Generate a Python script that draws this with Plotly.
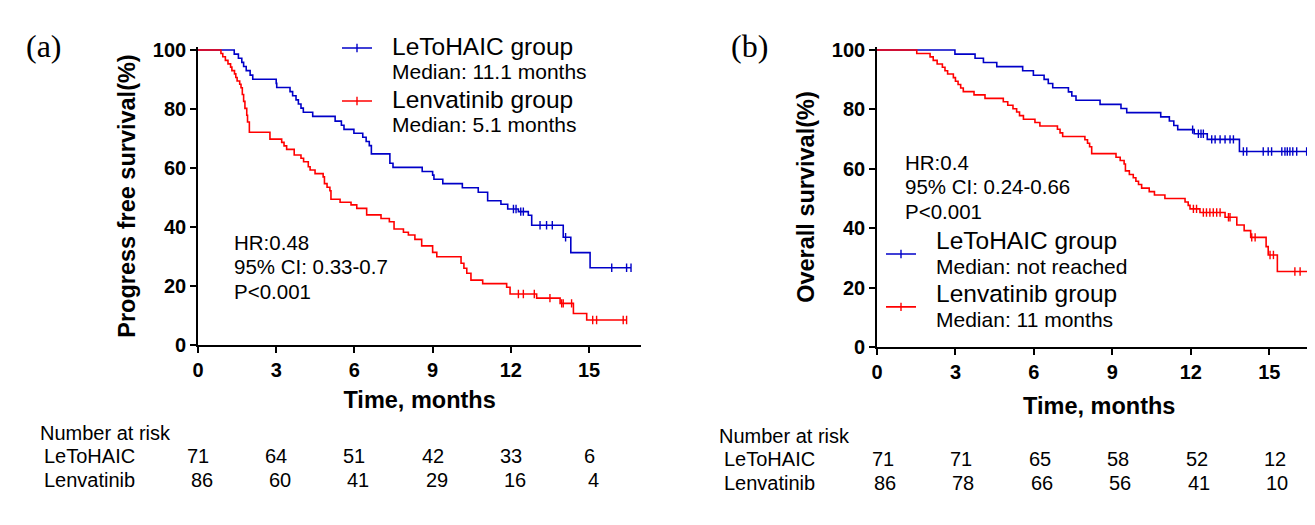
import plotly.graph_objects as go

# ---------------- data ----------------
month_ticks = [0, 3, 6, 9, 12, 15]
pct_ticks = [0, 20, 40, 60, 80, 100]

pfs_leto_time = [0, 1.39, 1.55, 1.68, 1.75, 1.85, 2.0, 2.1, 3.0, 3.02, 3.53, 3.63, 3.76, 3.85, 3.95, 4.04, 4.4,
                 5.26, 5.5, 5.6, 5.98, 6.32, 6.45, 6.57, 6.65, 7.36, 7.48, 8.6, 9.0, 9.05, 9.39, 10.14, 10.75,
                 11.11, 11.62, 11.88, 12.29, 12.67, 12.8, 14.01, 14.3, 15.04, 16.61]
pfs_leto_surv = [100, 98.6, 97.2, 95.8, 94.4, 93.0, 91.5, 90.1, 88.7, 87.3, 85.9, 84.5, 83.1, 81.7, 80.3, 78.9, 77.5,
                 75.9, 74.5, 73.1, 71.8, 70.4, 69.0, 67.6, 64.8, 61.6, 60.2, 58.8, 57.6, 56.2, 54.7, 53.3, 51.8,
                 48.9, 47.7, 46.1, 45.2, 44.0, 40.6, 36.5, 31.3, 26.2, 26.2]
pfs_leto_cens = [12.1, 12.2, 12.38, 12.48, 13.12, 13.37, 13.59, 14.1, 15.87, 16.44, 16.61]

pfs_lenv_time = [0, 0.88, 0.95, 1.05, 1.15, 1.25, 1.3, 1.4, 1.45, 1.5, 1.6, 1.65, 1.7, 1.75, 1.8, 1.87, 1.9, 1.97,
                 2.76, 3.21, 3.3, 3.4, 3.69, 3.95, 4.05, 4.23, 4.3, 4.49, 4.8, 4.85, 4.95, 5.06, 5.1, 5.45, 5.87,
                 6.09, 6.47, 7.02, 7.34, 7.52, 7.88, 8.07, 8.32, 8.58, 9.0, 9.16, 10.09, 10.2, 10.31, 10.47, 10.92,
                 11.84, 11.97, 12.99, 13.89, 14.4, 14.91, 16.44]
pfs_lenv_surv = [100, 98.8, 97.7, 96.5, 95.3, 94.2, 93.0, 91.9, 90.7, 89.5, 88.4, 87.2, 84.9, 82.6, 80.2, 77.9, 75.6, 72.1,
                 69.8, 68.7, 67.5, 66.3, 64.4, 63.3, 62.1, 60.4, 59.3, 58.1, 57.0, 54.7, 53.5, 52.3, 49.4, 48.4, 47.5,
                 46.3, 44.1, 42.9, 41.8, 39.3, 38.2, 37.3, 35.8, 33.6, 31.4, 29.9, 27.7, 26.0, 24.3, 22.0, 20.8,
                 19.6, 17.3, 15.9, 14.1, 10.7, 8.5, 8.5]
pfs_lenv_cens = [12.29, 12.48, 12.9, 13.5, 13.95, 14.01, 14.33, 15.14, 15.29, 16.31, 16.44]

os_leto_time = [0, 2.98, 3.75, 4.07, 4.58, 5.57, 5.98, 6.39, 6.55, 6.72, 7.32, 7.45, 7.61, 8.53, 9.33, 9.55,
                10.85, 11.18, 11.35, 11.5, 12.13, 12.63, 13.86, 16.58]
os_leto_surv = [100, 98.6, 97.2, 95.8, 94.4, 93.0, 91.5, 90.1, 88.7, 87.3, 85.9, 84.5, 83.1, 81.7, 80.3, 78.9,
                77.5, 76.1, 74.6, 73.2, 71.8, 69.9, 65.8, 65.8]
os_leto_cens = [12.07, 12.29, 12.39, 12.48, 12.8, 12.93, 13.12, 13.31, 13.5, 13.63, 14.01, 14.14, 14.77, 14.96,
                15.09, 15.48, 15.6, 15.69, 15.79, 15.9, 16.05, 16.43, 16.58]

os_lenv_time = [0, 1.52, 2.03, 2.15, 2.3, 2.5, 2.6, 2.7, 2.92, 3.0, 3.1, 3.2, 3.3, 3.71, 4.13, 4.83, 5.0, 5.2,
                5.34, 5.45, 5.6, 6.04, 6.23, 6.9, 7.0, 7.1, 7.95, 8.05, 8.13, 8.21, 9.14, 9.3, 9.45, 9.5, 9.65,
                9.8, 9.9, 10.0, 10.12, 10.41, 10.61, 11.01, 11.78, 11.9, 11.97, 12.35, 13.31, 13.76, 14.04, 14.29,
                14.88, 14.96, 15.31, 16.63]
os_lenv_surv = [100, 98.8, 97.7, 96.5, 95.3, 94.2, 93.0, 91.9, 90.7, 89.5, 88.4, 87.2, 86.0, 84.9, 83.7, 82.6,
                81.4, 80.2, 79.1, 77.9, 76.7, 75.6, 74.4, 73.3, 72.1, 70.9, 69.8, 68.6, 67.4, 65.1, 63.9, 62.8,
                61.6, 59.3, 58.1, 57.0, 55.8, 54.7, 53.5, 52.3, 51.2, 50.0, 48.8, 47.7, 46.5, 45.3, 43.7, 41.1,
                39.2, 36.9, 33.8, 31.0, 25.4, 25.4]
os_lenv_cens = [12.1, 12.22, 12.48, 12.6, 12.73, 12.86, 12.99, 13.12, 13.44, 13.5, 14.33, 14.46, 15.03, 15.16,
                15.98, 16.18, 16.5, 16.63]

risk_times = [0, 3, 6, 9, 12, 15]
pfs_risk_leto = [71, 64, 51, 42, 33, 6]
pfs_risk_lenv = [86, 60, 41, 29, 16, 4]
os_risk_leto = [71, 71, 65, 58, 52, 12]
os_risk_lenv = [86, 78, 66, 56, 41, 10]

group_names = ["LeToHAIC group", "Lenvatinib group"]
risk_row_names = ["LeToHAIC", "Lenvatinib"]
pfs_medians = ["Median: 11.1 months", "Median: 5.1 months"]
os_medians = ["Median: not reached", "Median: 11 months"]
pfs_stats = ["HR:0.48", "95% CI: 0.33-0.7", "P<0.001"]
os_stats = ["HR:0.4", "95% CI: 0.24-0.66", "P<0.001"]

# ---------------- style / layout ----------------
W, H = 1315, 525
OFF = 8  # the page body margin shifts the figure by 8 px; positions below are in screen pixels
BLUE = "#0000C8"
RED = "#FF0000"
FONT = "Liberation Sans, Arial, sans-serif"
SERIF = "Liberation Serif, Times New Roman, serif"
GAP = '<span style="font-size:27px">\u00a0\u00a0</span>'


def fx(p):
    return (p - OFF) / W


def fy(p):
    return 1 - (p - OFF) / H


def level_at(times, surv, t):
    v = surv[0]
    for ti, si in zip(times, surv):
        if ti <= t:
            v = si
        else:
            break
    return v


fig = go.Figure()

panels = [
    dict(xa="x", ya="y", leg="legend", medians=pfs_medians,
         series=[(pfs_leto_time, pfs_leto_surv, pfs_leto_cens, BLUE),
                 (pfs_lenv_time, pfs_lenv_surv, pfs_lenv_cens, RED)]),
    dict(xa="x2", ya="y2", leg="legend2", medians=os_medians,
         series=[(os_leto_time, os_leto_surv, os_leto_cens, BLUE),
                 (os_lenv_time, os_lenv_surv, os_lenv_cens, RED)]),
]

for p in panels:
    for (t, s, c, col) in p["series"]:
        fig.add_trace(go.Scatter(x=t, y=s, mode="lines", line=dict(color=col, width=1.6, shape="hv"),
                                 showlegend=False, hoverinfo="skip", xaxis=p["xa"], yaxis=p["ya"]))
        fig.add_trace(go.Scatter(x=c, y=[level_at(t, s, ci) for ci in c], mode="markers",
                                 marker=dict(symbol="line-ns-open", size=6, color=col,
                                             line=dict(color=col, width=1.4)),
                                 showlegend=False, hoverinfo="skip", xaxis=p["xa"], yaxis=p["ya"]))
    for k, ((t, s, c, col), gname, med) in enumerate(zip(p["series"], group_names, p["medians"])):
        fig.add_trace(go.Scatter(
            x=[None], y=[None], mode="lines+markers",
            line=dict(color=col, width=1.6),
            marker=dict(symbol="line-ns-open", size=6, color=col, line=dict(color=col, width=1.4)),
            name=('%s<span style="font-size:24.5px">%s</span><br>%s<span style="font-size:21px">%s</span>'
                  % (GAP, gname, GAP, med)),
            legend=p["leg"], legendgroup="%s_%d" % (p["leg"], k), xaxis=p["xa"], yaxis=p["ya"]))

axis_common = dict(showline=True, linecolor="black", linewidth=1.6, ticks="outside", ticklen=6, tickwidth=1.6,
                   tickcolor="black", showgrid=False, zeroline=False,
                   tickfont=dict(family=FONT, size=20, color="black", weight="bold"))
title_font = dict(family=FONT, size=23.5, color="black", weight="bold")

# pixel geometry of the two panels (screen px)
ax_a = dict(x0=198, px_per_month=26.07, y0=345, px_per_pct=2.95)
ax_b = dict(x0=877, px_per_month=26.15, y0=347, px_per_pct=2.97)
XMAX, YMAX = 17, 101


def xdom(g):
    return [fx(g["x0"]), min(1.0, fx(g["x0"] + XMAX * g["px_per_month"]))]


def ydom(g):
    return [fy(g["y0"]), fy(g["y0"] - YMAX * g["px_per_pct"])]


fig.update_layout(
    width=W, height=H, margin=dict(l=0, r=0, t=0, b=0, autoexpand=False),
    paper_bgcolor="white", plot_bgcolor="white",
    xaxis=dict(domain=xdom(ax_a), range=[0, XMAX], tickvals=month_ticks, anchor="y",
               title=dict(text="Time, months", font=title_font, standoff=12), **axis_common),
    yaxis=dict(domain=ydom(ax_a), range=[0, YMAX], tickvals=pct_ticks, anchor="x",
               title=dict(text="Progress free survival(%)", font=title_font, standoff=11), **axis_common),
    xaxis2=dict(domain=xdom(ax_b), range=[0, XMAX], tickvals=month_ticks, anchor="y2",
                title=dict(text="Time, months", font=title_font, standoff=16), **axis_common),
    yaxis2=dict(domain=ydom(ax_b), range=[0, YMAX], tickvals=pct_ticks, anchor="x2",
                title=dict(text="Overall survival(%)", font=title_font, standoff=11), **axis_common),
    legend=dict(x=fx(337), y=fy(29.5), xanchor="left", yanchor="top", valign="top", itemwidth=30,
                font=dict(family=FONT, size=18.46, color="black"), bgcolor="rgba(0,0,0,0)", tracegroupgap=2),
    legend2=dict(x=fx(881), y=fy(222.5), xanchor="left", yanchor="top", valign="middle", itemwidth=30,
                 font=dict(family=FONT, size=19.2, color="black"), bgcolor="rgba(0,0,0,0)", tracegroupgap=0),
)

ann = []
txt = dict(family=FONT, size=20, color="black")
stat_font = dict(family=FONT, size=20.5, color="black")
ann.append(dict(text="(a)", x=fx(24), y=fy(46), xref="paper", yref="paper", xanchor="left", yanchor="middle",
                showarrow=False, font=dict(family=SERIF, size=32, color="black")))
ann.append(dict(text="(b)", x=fx(729), y=fy(46), xref="paper", yref="paper", xanchor="left", yanchor="middle",
                showarrow=False, font=dict(family=SERIF, size=32, color="black")))
for stats, sx, sy in [(pfs_stats, 232, 242), (os_stats, 903, 162)]:
    for i, line in enumerate(stats):
        ann.append(dict(text=line, x=fx(sx), y=fy(sy + 24.5 * i), xref="paper", yref="paper", xanchor="left",
                        yanchor="middle", align="left", showarrow=False, font=stat_font))

tables = [
    dict(xref="x", lx=38, ly=433, rx=42, rows_y=[456, 480], rows=[pfs_risk_leto, pfs_risk_lenv], shifts=[0, 4]),
    dict(xref="x2", lx=717, ly=436, rx=722, rows_y=[459, 483], rows=[os_risk_leto, os_risk_lenv], shifts=[6, 8]),
]
for tb in tables:
    ann.append(dict(text="Number at risk", x=fx(tb["lx"]), y=fy(tb["ly"]), xref="paper", yref="paper",
                    xanchor="left", yanchor="middle", showarrow=False, font=txt))
    for name, ry, vals, sh in zip(risk_row_names, tb["rows_y"], tb["rows"], tb["shifts"]):
        ann.append(dict(text=name, x=fx(tb["rx"]), y=fy(ry), xref="paper", yref="paper",
                        xanchor="left", yanchor="middle", showarrow=False, font=txt))
        for tm, v in zip(risk_times, vals):
            ann.append(dict(text=str(v), x=tm, y=fy(ry), xref=tb["xref"], yref="paper", xshift=sh,
                            xanchor="center", yanchor="middle", showarrow=False, font=txt))

fig.update_layout(annotations=ann)
fig.write_html("out.html")
